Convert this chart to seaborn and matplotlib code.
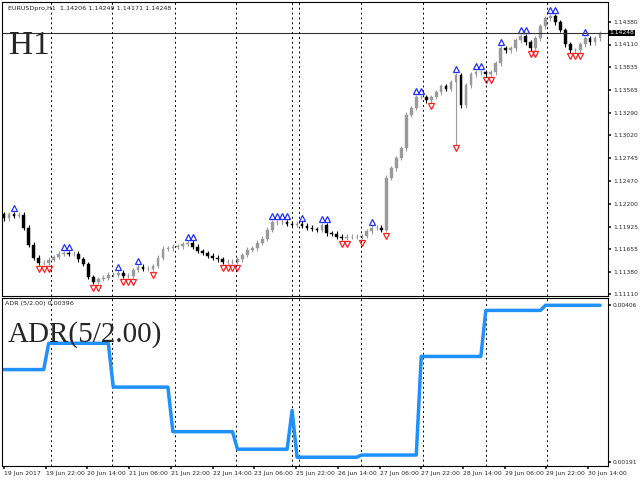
import numpy as np
import pandas as pd
import matplotlib
matplotlib.use('Agg')
import matplotlib.pyplot as plt
import seaborn as sns

# hourly-ish closes, left to right
closes = [
    1.12028, 1.12076, 1.12052, 1.12064, 1.11908, 1.11704, 1.11548, 1.11488, 1.11488, 1.11524,
    1.11560, 1.11596, 1.11608, 1.11596, 1.11596, 1.11536, 1.11476, 1.11320, 1.11260, 1.11296,
    1.11308, 1.11344, 1.11344, 1.11368, 1.11332, 1.11332, 1.11404, 1.11440, 1.11416, 1.11416,
    1.11452, 1.11548, 1.11656, 1.11668, 1.11680, 1.11692, 1.11716, 1.11728, 1.11680, 1.11632,
    1.11608, 1.11572, 1.11548, 1.11536, 1.11500, 1.11500, 1.11500, 1.11536, 1.11584, 1.11644,
    1.11668, 1.11728, 1.11776, 1.11884, 1.11980, 1.11980, 1.11980, 1.11956, 1.11944, 1.11956,
    1.11932, 1.11908, 1.11896, 1.11884, 1.11944, 1.11848, 1.11836, 1.11800, 1.11788, 1.11800,
    1.11800, 1.11800, 1.11812, 1.11872, 1.11908, 1.11908, 1.11884, 1.12508, 1.12628, 1.12748,
    1.12868, 1.13264, 1.13348, 1.13480, 1.13480, 1.13444, 1.13480, 1.13540, 1.13612, 1.13576,
    1.13660, 1.13744, 1.13384, 1.13624, 1.13756, 1.13780, 1.13780, 1.13756, 1.13780, 1.13888,
    1.14068, 1.14044, 1.14068, 1.14164, 1.14212, 1.14140, 1.14068, 1.14188, 1.14332, 1.14428,
    1.14452, 1.14380, 1.14284, 1.14116, 1.14044, 1.14044, 1.14116, 1.14188, 1.14140, 1.14188,
    1.14248,
]
spike_low_idx = [91]
spike_low_val = [1.12904]

# ADR(5/2.00) daily levels and the bar where each day starts
adr_levels = [0.00318, 0.00354, 0.00294, 0.00233, 0.00209, 0.00262, 0.00198, 0.00201, 0.00336, 0.00399, 0.00406]
adr_starts = [0, 9, 22, 34, 47, 58, 59, 72, 84, 97, 109]

price_ticks = [1.14380, 1.14110, 1.13835, 1.13565, 1.13290, 1.13020, 1.12745,
               1.12470, 1.12200, 1.11925, 1.11655, 1.11380, 1.11110]
adr_ticks = [0.00406, 0.00191]
time_labels = ['19 Jun 2017', '19 Jun 22:00', '20 Jun 14:00', '21 Jun 06:00', '21 Jun 22:00',
               '22 Jun 14:00', '23 Jun 06:00', '25 Jun 22:00', '26 Jun 14:00', '27 Jun 06:00',
               '27 Jun 22:00', '28 Jun 14:00', '29 Jun 06:00', '29 Jun 22:00', '30 Jun 14:00']
time_label_pos = [0, 8.4, 16.8, 25.2, 33.6, 42, 50.4, 58.8, 67.2, 75.6, 84, 92.4, 100.8, 109.2, 117.6]
grid_pos = [9.4, 21.8, 34.4, 46.8, 58, 59.4, 71.8, 84.4, 97, 109.4]

sns.set_theme(style='white')
plt.rcParams['font.family'] = 'DejaVu Sans'

n = len(closes)
idx = np.arange(n)
opens = [closes[0] + 0.0004] + closes[:-1]
df = pd.DataFrame({'bar': idx, 'open': opens, 'close': closes})
df['high'] = df[['open', 'close']].max(axis=1) + 0.0003
df['low'] = df[['open', 'close']].min(axis=1) - 0.0003
for i, v in zip(spike_low_idx, spike_low_val):
    df.loc[i, 'low'] = v

fig = plt.figure(figsize=(6.4, 4.8), dpi=100)
ax = fig.add_axes([2 / 640, 184 / 480, 606 / 640, 294 / 480])
ax2 = fig.add_axes([2 / 640, 14 / 480, 606 / 640, 168 / 480])

for _, r in df.iterrows():
    up = r['close'] >= r['open']
    col = '#9a9a9a' if up else 'black'
    ax.vlines(r['bar'], r['low'], r['high'], color=col, lw=0.8)
    ax.bar(r['bar'], abs(r['close'] - r['open']) + 0.00004, bottom=min(r['open'], r['close']),
           width=0.55, color=col, edgecolor=col, lw=0.3)

# fractal arrows
hi = df['high'].values
lo = df['low'].values
for i in range(2, n - 2):
    if hi[i] == max(hi[i - 2:i + 3]):
        ax.plot(i, hi[i] + 0.0004, marker='^', ms=4, mfc='none', mec='#1f2fff', mew=0.9)
    if lo[i] == min(lo[i - 2:i + 3]):
        ax.plot(i, lo[i] - 0.0004, marker='v', ms=4, mfc='none', mec='#ff2020', mew=0.9)

ax.set_xlim(-0.4, 121.6)
ax.set_ylim(1.11092, 1.14620)
ax.axhline(closes[-1], color='#333333', lw=0.8)
for g in grid_pos:
    ax.axvline(g, color='black', ls=(0, (2, 3)), lw=0.7)
    ax2.axvline(g, color='black', ls=(0, (2, 3)), lw=0.7)

ax.yaxis.tick_right()
ax.set_yticks(price_ticks)
ax.set_yticklabels([f'{p:.5f}' for p in price_ticks], fontsize=4.3)
ax.tick_params(axis='y', length=2, pad=1.5, right=True)
ax.set_xticks([])
ax.text(121.9, closes[-1], f'{closes[-1]:.5f}', fontsize=4.3, color='white', va='center',
        bbox=dict(facecolor='black', edgecolor='none', pad=0.6))
ax.text(0.01, 0.985, 'EURUSDpro,H1  1.14206 1.14249 1.14171 1.14248', transform=ax.transAxes,
        fontsize=4.6, va='top')
ax.text(0.012, 0.85, 'H1', transform=ax.transAxes, fontsize=24, family='Liberation Serif', va='center')

adr = np.zeros(n)
for k, s in enumerate(adr_starts):
    adr[s:] = adr_levels[k]
sns.lineplot(x=idx, y=adr, ax=ax2, color='#1e90ff', lw=2.5)
ax2.set_xlim(-0.4, 121.6)
ax2.set_ylim(0.00186, 0.00416)
ax2.yaxis.tick_right()
ax2.set_yticks(adr_ticks)
ax2.set_yticklabels([f'{a:.5f}' for a in adr_ticks], fontsize=4.3)
ax2.tick_params(axis='both', length=2, pad=1.5, right=True, bottom=True)
ax2.set_xticks(time_label_pos)
ax2.set_xticklabels(time_labels, fontsize=4.4, ha='left')
ax2.text(0.005, 0.985, 'ADR (5/2.00) 0.00396', transform=ax2.transAxes, fontsize=4.6, va='top')
ax2.text(0.01, 0.78, 'ADR(5/2.00)', transform=ax2.transAxes, fontsize=21,
         family='Liberation Serif', va='center')

for a in (ax, ax2):
    for s in a.spines.values():
        s.set_color('black')
        s.set_linewidth(0.8)

fig.savefig('out.png', dpi=100)
